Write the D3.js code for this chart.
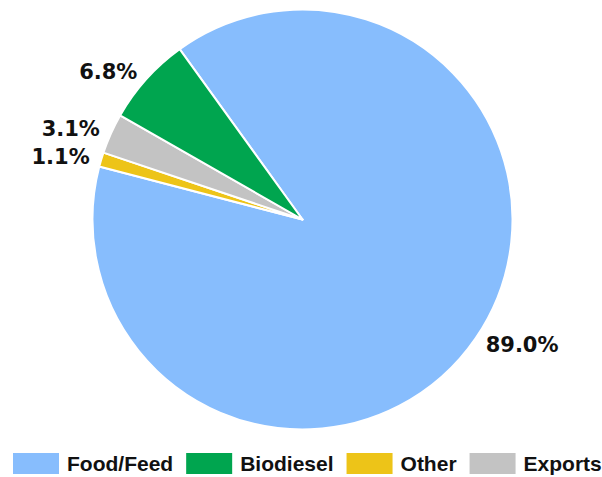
<!DOCTYPE html>
<html>
<head>
<meta charset="utf-8">
<script src="https://cdn.jsdelivr.net/npm/d3@7"></script>
<style>
  html, body { margin: 0; padding: 0; background: #fff; }
  svg { display: block; }
</style>
</head>
<body>
<div id="chart"></div>
<script>
const categories = ['Food/Feed', 'Biodiesel', 'Other', 'Exports'];
const shares = [89.0, 6.8, 1.1, 3.1];
const colors = ['#87BDFD', '#00A54F', '#EDC418', '#C3C3C3'];
// order the slices run clockwise, starting at the Food/Feed edge
const sliceOrder = ['Food/Feed', 'Other', 'Exports', 'Biodiesel'];

const width = 602, height = 477,
    cx = 302.5, cy = 219.5, radius = 210,
    startDeg = -35.8;

const svg = d3.select('#chart').append('svg')
    .attr('width', width)
    .attr('height', height);

const data = sliceOrder.map(name => {
    const i = categories.indexOf(name);
    return {name: name, value: shares[i], color: colors[i]};
});

const pie = d3.pie()
    .sort(null)
    .value(d => d.value)
    .startAngle(startDeg * Math.PI / 180)
    .endAngle((startDeg + 360) * Math.PI / 180);

const arc = d3.arc().innerRadius(0).outerRadius(radius);
const arcs = pie(data);

const g = svg.append('g').attr('transform', 'translate(' + cx + ',' + cy + ')');

g.selectAll('path')
    .data(arcs)
    .enter().append('path')
    .attr('d', arc)
    .attr('fill', d => d.data.color)
    .attr('stroke', '#fff')
    .attr('stroke-width', 2)
    .attr('stroke-linejoin', 'round');

// outside-end labels
const labelR = radius + 12;
g.selectAll('text.lbl')
    .data(arcs)
    .enter().append('text')
    .attr('class', 'lbl')
    .attr('x', d => labelR * Math.sin((d.startAngle + d.endAngle) / 2))
    .attr('y', d => -labelR * Math.cos((d.startAngle + d.endAngle) / 2))
    .attr('dy', '0.36em')
    .attr('text-anchor', d => Math.sin((d.startAngle + d.endAngle) / 2) < 0 ? 'end' : 'start')
    .style('font-family', '"DejaVu Sans", Verdana, sans-serif')
    .style('font-weight', 'bold')
    .style('font-size', '21px')
    .attr('fill', '#111')
    .text(d => d.data.value.toFixed(1) + '%');

// legend
const legend = svg.append('g').attr('class', 'legend');
let lx = 13;
categories.forEach((name, i) => {
    legend.append('rect')
        .attr('x', lx)
        .attr('y', 453)
        .attr('width', 46)
        .attr('height', 21)
        .attr('fill', colors[i]);
    const t = legend.append('text')
        .attr('x', lx + 54)
        .attr('y', 463.5)
        .attr('dy', '0.36em')
        .style('font-family', '"Liberation Sans", Arial, sans-serif')
        .style('font-weight', 'bold')
        .style('font-size', '21px')
        .attr('fill', '#111')
        .text(name);
    lx += 54 + t.node().getComputedTextLength() + 13;
});
</script>
</body>
</html>
